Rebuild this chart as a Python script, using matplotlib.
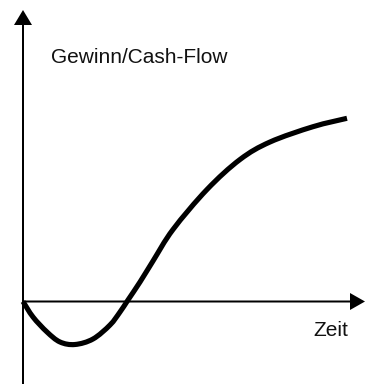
import matplotlib
matplotlib.use("Agg")
import matplotlib.pyplot as plt
from matplotlib.path import Path
from matplotlib.patches import PathPatch

# Curve (time vs. profit/cash-flow, arbitrary units)
zeit = [0, 10, 24, 37, 52, 70, 87, 97, 105, 117, 130, 150, 184, 217, 247,
        290, 324]
gewinn = [0, -15.5, -30.5, -40.5, -43, -37.5, -23.5, -10.5, 1.5, 19.5, 40.5,
          72, 112, 142, 159.5, 174.8, 183.2]

y_label = "Gewinn/Cash-Flow"
x_label = "Zeit"

fig = plt.figure(figsize=(3.69, 3.84), dpi=100)
ax = fig.add_axes([0, 0, 1, 1])
ax.set_xlim(-23, 346)
ax.set_ylim(-82.5, 301.5)
ax.axis("off")

# axes with arrow heads
ax.arrow(0, -90, 0, 381.5, width=2, head_width=18, head_length=15,
         length_includes_head=True, color="black", linewidth=0)
ax.arrow(0, 0, 342, 0, width=2, head_width=17, head_length=15,
         length_includes_head=True, color="black", linewidth=0)

# smooth line through the read points (Catmull-Rom drawn as cubic Bezier)
pts = list(zip(zeit, gewinn))
verts = [pts[0]]
codes = [Path.MOVETO]
n = len(pts)
for i in range(n - 1):
    p0 = pts[i - 1] if i > 0 else pts[i]
    p1 = pts[i]
    p2 = pts[i + 1]
    p3 = pts[i + 2] if i + 2 < n else pts[i + 1]
    c1 = (p1[0] + (p2[0] - p0[0]) / 6, p1[1] + (p2[1] - p0[1]) / 6)
    c2 = (p2[0] - (p3[0] - p1[0]) / 6, p2[1] - (p3[1] - p1[1]) / 6)
    verts += [c1, c2, p2]
    codes += [Path.CURVE4] * 3
ax.add_patch(PathPatch(Path(verts, codes), facecolor="none",
                       edgecolor="black", linewidth=3.7, capstyle="butt",
                       joinstyle="round"))

font = ["Liberation Sans", "DejaVu Sans"]
ax.text(28, 238.5, y_label, fontsize=15, family=font, va="baseline",
        ha="left", color="#111111")
ax.text(290, -34.5, x_label, fontsize=15, family=font, va="baseline",
        ha="left", color="#111111")

fig.savefig("out.png", dpi=100)
